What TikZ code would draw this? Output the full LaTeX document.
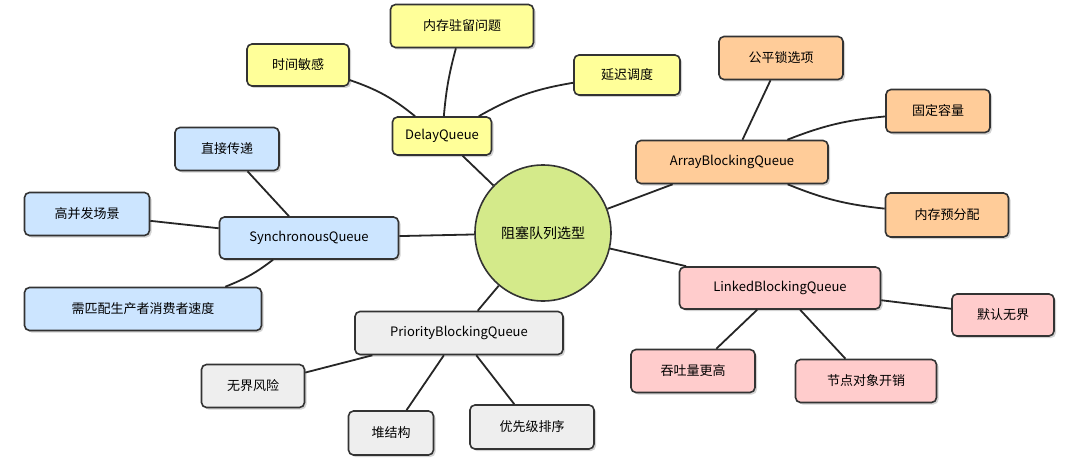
\documentclass[tikz,border=0pt]{standalone}
\usepackage{fontspec}
\setmainfont{Noto Sans CJK SC}
\usetikzlibrary{shadows}
\definecolor{cy}{HTML}{FFFF99}
\definecolor{co}{HTML}{FFCC99}
\definecolor{cb}{HTML}{CCE5FF}
\definecolor{cp}{HTML}{FFCCCC}
\definecolor{cg}{HTML}{EEEEEE}
\definecolor{cc}{HTML}{D4EA8A}
\tikzset{
 bx/.style={draw=black!80,line width=1.6pt,rounded corners=5pt,font=\fontsize{13}{15}\selectfont,inner sep=0pt,anchor=center,drop shadow={shadow xshift=2pt,shadow yshift=-2pt,opacity=0.35}},
 ln/.style={line width=1.8pt,black!85}
}
\begin{document}
\begin{tikzpicture}[x=1pt,y=-1pt]
\useasboundingbox (0,0) rectangle (1080,460);
\def\B#1#2#3#4#5#6#7{\node[bx,fill=#7,minimum width=#4pt,minimum height=#5pt] (#1) at (#2,#3) {#6};}
\node[draw=black!80,line width=1.6pt,circle,fill=cc,minimum size=136pt,font=\fontsize{14}{16}\selectfont] (c) at (543,233) {阻塞队列选型};
\B{dq}{442}{136}{99}{38}{DelayQueue}{cy}
\B{d1}{462}{26}{143}{43}{内存驻留问题}{cy}
\B{d2}{298}{65}{102}{42}{时间敏感}{cy}
\B{d3}{627}{75}{106}{40}{延迟调度}{cy}
\B{aq}{732}{162}{192}{43}{ArrayBlockingQueue}{co}
\B{a1}{781}{58}{124}{43}{公平锁选项}{co}
\B{a2}{938}{111}{104}{43}{固定容量}{co}
\B{a3}{947}{215}{123}{44}{内存预分配}{co}
\B{sq}{309}{238}{179}{42}{SynchronousQueue}{cb}
\B{s1}{227}{149}{104}{43}{直接传递}{cb}
\B{s2}{87}{214}{125}{43}{高并发场景}{cb}
\B{s3}{143}{309}{237}{43}{需匹配生产者消费者速度}{cb}
\B{lq}{780}{288}{201}{42}{LinkedBlockingQueue}{cp}
\B{l1}{1003}{315}{102}{42}{默认无界}{cp}
\B{l2}{693}{371}{124}{43}{吞吐量更高}{cp}
\B{l3}{866}{381}{141}{43}{节点对象开销}{cp}
\B{pq}{459}{333}{208}{43}{PriorityBlockingQueue}{cg}
\B{p1}{253}{386}{103}{43}{无界风险}{cg}
\B{p2}{391}{433}{85}{44}{堆结构}{cg}
\B{p3}{532}{427}{124}{44}{优先级排序}{cg}
\begin{scope}[on background layer/.style={}]
\end{scope}
\begin{pgfinterruptboundingbox}\end{pgfinterruptboundingbox}
\pgfsetlayers{main}
\draw[ln] (c) -- (dq) (dq) to[bend left=5] (d1) (dq) to[bend right=10] (d2) (dq) to[bend left=10] (d3);
\draw[ln] (c) -- (aq) (aq) -- (a1) (aq) to[bend left=8] (a2) (aq) to[bend right=8] (a3);
\draw[ln] (c) -- (sq) (sq) -- (s1) (sq) -- (s2) (sq) to[bend left=8] (s3);
\draw[ln] (c) -- (lq) (lq) -- (l1) (lq) -- (l2) (lq) -- (l3);
\draw[ln] (c) -- (pq) (pq) -- (p1) (pq) -- (p2) (pq) -- (p3);
\end{tikzpicture}
\end{document}
